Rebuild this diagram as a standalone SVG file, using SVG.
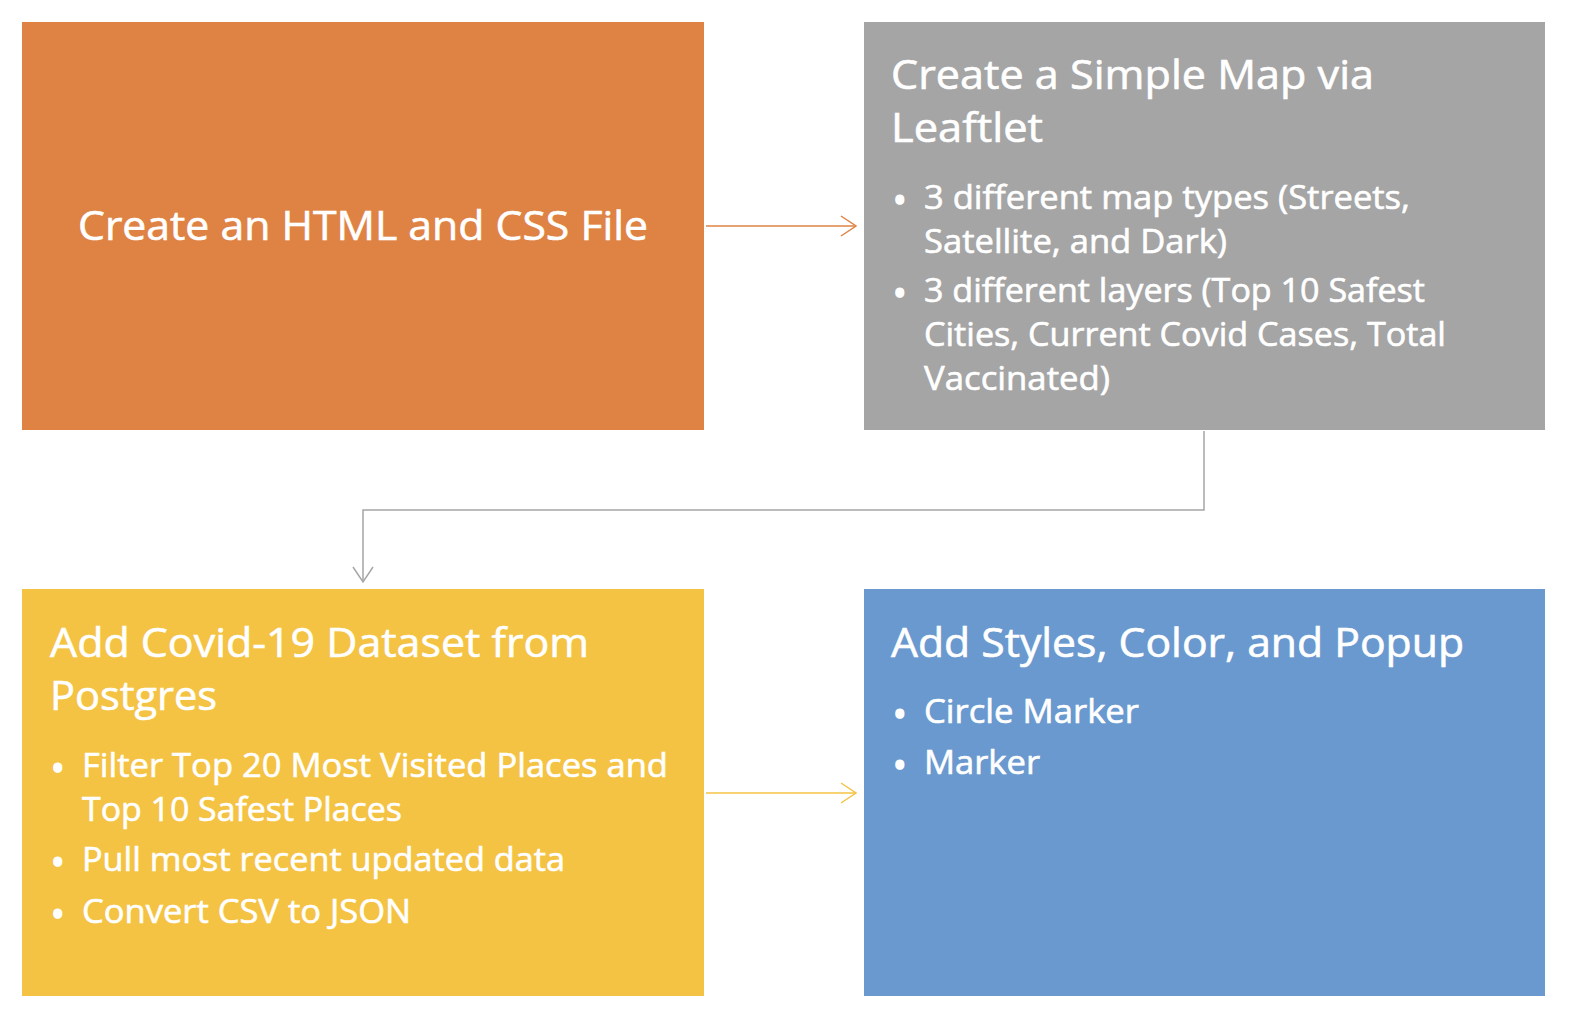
<svg xmlns="http://www.w3.org/2000/svg" width="1572" height="1020" viewBox="0 0 1572 1020">
<style>
  .t{font-family:"Open Sans","Noto Sans","Liberation Sans",sans-serif;fill:#ffffff;stroke:#ffffff;stroke-width:0.6px;}
  .h{font-size:40px;}
  .b{font-size:32.5px;}
  .d{font-size:36px;stroke-width:1.6px;}
  .c{fill:none;stroke-width:1.5;}
</style>
<defs>
  <marker id="arrO" viewBox="0 0 20 24" refX="17" refY="12" markerWidth="20" markerHeight="24" markerUnits="userSpaceOnUse" orient="auto">
    <path d="M2,2 L17,12 L2,22" fill="none" stroke="#df8344" stroke-width="1.5"/>
  </marker>
  <marker id="arrG" viewBox="0 0 20 24" refX="17" refY="12" markerWidth="20" markerHeight="24" markerUnits="userSpaceOnUse" orient="auto">
    <path d="M2,2 L17,12 L2,22" fill="none" stroke="#a5a5a5" stroke-width="1.5"/>
  </marker>
  <marker id="arrY" viewBox="0 0 20 24" refX="17" refY="12" markerWidth="20" markerHeight="24" markerUnits="userSpaceOnUse" orient="auto">
    <path d="M2,2 L17,12 L2,22" fill="none" stroke="#f4c343" stroke-width="1.5"/>
  </marker>
</defs>
<rect width="1572" height="1020" fill="#ffffff"/>

<g id="node-html">
  <rect x="22" y="22" width="682" height="408" fill="#df8344"/>
  <text class="t h" x="78" y="240" textLength="570" lengthAdjust="spacingAndGlyphs">Create an HTML and CSS File</text>
</g>

<g id="node-map">
  <rect x="864" y="22" width="681" height="408" fill="#a5a5a5"/>
  <text class="t h" x="891" y="89" textLength="483" lengthAdjust="spacingAndGlyphs">Create a Simple Map via</text>
  <text class="t h" x="891" y="142" textLength="152" lengthAdjust="spacingAndGlyphs">Leaftlet</text>
  <text class="t b" x="893" y="213"><tspan class="d">•</tspan><tspan x="924" y="209" textLength="486" lengthAdjust="spacingAndGlyphs">3 different map types (Streets,</tspan></text>
  <text class="t b" x="924" y="253" textLength="303" lengthAdjust="spacingAndGlyphs">Satellite, and Dark)</text>
  <text class="t b" x="893" y="306"><tspan class="d">•</tspan><tspan x="924" y="302" textLength="501" lengthAdjust="spacingAndGlyphs">3 different layers (Top 10 Safest</tspan></text>
  <text class="t b" x="924" y="346" textLength="522" lengthAdjust="spacingAndGlyphs">Cities, Current Covid Cases, Total</text>
  <text class="t b" x="924" y="390" textLength="186" lengthAdjust="spacingAndGlyphs">Vaccinated)</text>
</g>

<g id="node-data">
  <rect x="22" y="589" width="682" height="407" fill="#f4c343"/>
  <text class="t h" x="50" y="657" textLength="539" lengthAdjust="spacingAndGlyphs">Add Covid-19 Dataset from</text>
  <text class="t h" x="50" y="710" textLength="167" lengthAdjust="spacingAndGlyphs">Postgres</text>
  <text class="t b" x="51" y="781"><tspan class="d">•</tspan><tspan x="82" y="777" textLength="586" lengthAdjust="spacingAndGlyphs">Filter Top 20 Most Visited Places and</tspan></text>
  <text class="t b" x="82" y="821" textLength="320" lengthAdjust="spacingAndGlyphs">Top 10 Safest Places</text>
  <text class="t b" x="51" y="875"><tspan class="d">•</tspan><tspan x="82" y="871" textLength="483" lengthAdjust="spacingAndGlyphs">Pull most recent updated data</tspan></text>
  <text class="t b" x="51" y="927"><tspan class="d">•</tspan><tspan x="82" y="923" textLength="329" lengthAdjust="spacingAndGlyphs">Convert CSV to JSON</tspan></text>
</g>

<g id="node-style">
  <rect x="864" y="589" width="681" height="407" fill="#6a99cf"/>
  <text class="t h" x="891" y="657" textLength="573" lengthAdjust="spacingAndGlyphs">Add Styles, Color, and Popup</text>
  <text class="t b" x="893" y="727"><tspan class="d">•</tspan><tspan x="924" y="723" textLength="215" lengthAdjust="spacingAndGlyphs">Circle Marker</tspan></text>
  <text class="t b" x="893" y="778"><tspan class="d">•</tspan><tspan x="924" y="774" textLength="116" lengthAdjust="spacingAndGlyphs">Marker</tspan></text>
</g>

<g id="connectors">
  <path class="c" d="M706,226 H856" stroke="#df8344" marker-end="url(#arrO)"/>
  <path class="c" d="M1204,431 V510 H363 V582" stroke="#a5a5a5" marker-end="url(#arrG)"/>
  <path class="c" d="M706,793 H856" stroke="#f4c343" marker-end="url(#arrY)"/>
</g>
</svg>
